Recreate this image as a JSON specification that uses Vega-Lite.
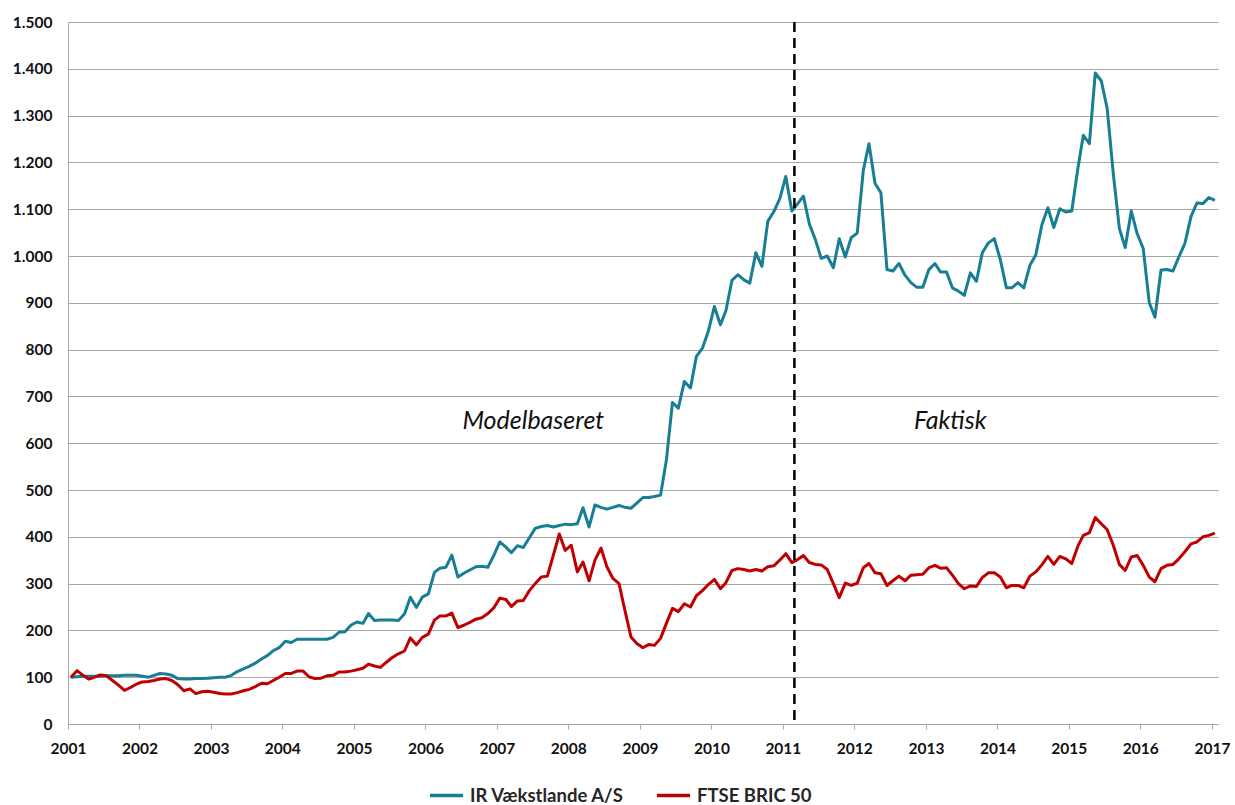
{
"$schema":"https://vega.github.io/schema/vega-lite/v6.json",
"width":1150,"height":702,
"autosize":{"type":"none"},
"padding":{"left":68,"top":22,"right":17,"bottom":81},
"background":"white",
"config":{"view":{"stroke":null},"font":"Lato"},
"datasets":{"main":[
{"t":"2001-01-16","ir":100,"ftse":100},{"t":"2001-02-16","ir":101,"ftse":114},{"t":"2001-03-16","ir":102,"ftse":105},{"t":"2001-04-16","ir":102,"ftse":96},{"t":"2001-05-16","ir":102,"ftse":100},{"t":"2001-06-16","ir":102,"ftse":105},{"t":"2001-07-16","ir":103,"ftse":103},{"t":"2001-08-16","ir":103,"ftse":93},{"t":"2001-09-16","ir":103,"ftse":83},{"t":"2001-10-16","ir":104,"ftse":72},{"t":"2001-11-16","ir":104,"ftse":78},{"t":"2001-12-16","ir":104,"ftse":85},
{"t":"2002-01-16","ir":102,"ftse":90},{"t":"2002-02-16","ir":100,"ftse":91},{"t":"2002-03-16","ir":104,"ftse":93},{"t":"2002-04-16","ir":108,"ftse":96},{"t":"2002-05-16","ir":107,"ftse":97},{"t":"2002-06-16","ir":104,"ftse":93},{"t":"2002-07-16","ir":97,"ftse":84},{"t":"2002-08-16","ir":96,"ftse":71},{"t":"2002-09-16","ir":96,"ftse":75},{"t":"2002-10-16","ir":97,"ftse":65},{"t":"2002-11-16","ir":97,"ftse":69},{"t":"2002-12-16","ir":98,"ftse":70},
{"t":"2003-01-16","ir":99,"ftse":68},{"t":"2003-02-16","ir":100,"ftse":65},{"t":"2003-03-16","ir":100,"ftse":64},{"t":"2003-04-16","ir":104,"ftse":64},{"t":"2003-05-16","ir":112,"ftse":67},{"t":"2003-06-16","ir":118,"ftse":71},{"t":"2003-07-16","ir":123,"ftse":74},{"t":"2003-08-16","ir":130,"ftse":80},{"t":"2003-09-16","ir":139,"ftse":87},{"t":"2003-10-16","ir":146,"ftse":86},{"t":"2003-11-16","ir":157,"ftse":93},{"t":"2003-12-16","ir":163,"ftse":100},
{"t":"2004-01-16","ir":177,"ftse":108},{"t":"2004-02-16","ir":174,"ftse":108},{"t":"2004-03-16","ir":181,"ftse":113},{"t":"2004-04-16","ir":181,"ftse":113},{"t":"2004-05-16","ir":181,"ftse":101},{"t":"2004-06-16","ir":181,"ftse":97},{"t":"2004-07-16","ir":181,"ftse":98},{"t":"2004-08-16","ir":181,"ftse":103},{"t":"2004-09-16","ir":185,"ftse":104},{"t":"2004-10-16","ir":196,"ftse":111},{"t":"2004-11-16","ir":197,"ftse":111},{"t":"2004-12-16","ir":211,"ftse":113},
{"t":"2005-01-16","ir":218,"ftse":116},{"t":"2005-02-16","ir":215,"ftse":119},{"t":"2005-03-16","ir":236,"ftse":128},{"t":"2005-04-16","ir":221,"ftse":124},{"t":"2005-05-16","ir":222,"ftse":121},{"t":"2005-06-16","ir":222,"ftse":132},{"t":"2005-07-16","ir":222,"ftse":142},{"t":"2005-08-16","ir":221,"ftse":150},{"t":"2005-09-16","ir":235,"ftse":156},{"t":"2005-10-16","ir":271,"ftse":184},{"t":"2005-11-16","ir":249,"ftse":169},{"t":"2005-12-16","ir":271,"ftse":185},
{"t":"2006-01-16","ir":278,"ftse":192},{"t":"2006-02-16","ir":324,"ftse":222},{"t":"2006-03-16","ir":333,"ftse":231},{"t":"2006-04-16","ir":335,"ftse":231},{"t":"2006-05-16","ir":361,"ftse":237},{"t":"2006-06-16","ir":314,"ftse":206},{"t":"2006-07-16","ir":322,"ftse":211},{"t":"2006-08-16","ir":329,"ftse":217},{"t":"2006-09-16","ir":336,"ftse":224},{"t":"2006-10-16","ir":337,"ftse":227},{"t":"2006-11-16","ir":335,"ftse":236},{"t":"2006-12-16","ir":360,"ftse":248},
{"t":"2007-01-16","ir":389,"ftse":269},{"t":"2007-02-16","ir":378,"ftse":266},{"t":"2007-03-16","ir":366,"ftse":251},{"t":"2007-04-16","ir":381,"ftse":263},{"t":"2007-05-16","ir":377,"ftse":264},{"t":"2007-06-16","ir":398,"ftse":285},{"t":"2007-07-16","ir":418,"ftse":300},{"t":"2007-08-16","ir":422,"ftse":314},{"t":"2007-09-16","ir":424,"ftse":316},{"t":"2007-10-16","ir":421,"ftse":360},{"t":"2007-11-16","ir":424,"ftse":406},{"t":"2007-12-16","ir":427,"ftse":371},
{"t":"2008-01-16","ir":426,"ftse":382},{"t":"2008-02-16","ir":428,"ftse":325},{"t":"2008-03-16","ir":462,"ftse":346},{"t":"2008-04-16","ir":421,"ftse":306},{"t":"2008-05-16","ir":468,"ftse":350},{"t":"2008-06-16","ir":463,"ftse":376},{"t":"2008-07-16","ir":459,"ftse":336},{"t":"2008-08-16","ir":463,"ftse":311},{"t":"2008-09-16","ir":467,"ftse":300},{"t":"2008-10-16","ir":463,"ftse":243},{"t":"2008-11-16","ir":461,"ftse":186},{"t":"2008-12-16","ir":472,"ftse":172},
{"t":"2009-01-16","ir":484,"ftse":163},{"t":"2009-02-16","ir":484,"ftse":170},{"t":"2009-03-16","ir":486,"ftse":168},{"t":"2009-04-16","ir":489,"ftse":183},{"t":"2009-05-16","ir":564,"ftse":215},{"t":"2009-06-16","ir":687,"ftse":247},{"t":"2009-07-16","ir":675,"ftse":240},{"t":"2009-08-16","ir":732,"ftse":257},{"t":"2009-09-16","ir":718,"ftse":250},{"t":"2009-10-16","ir":785,"ftse":274},{"t":"2009-11-16","ir":803,"ftse":285},{"t":"2009-12-16","ir":839,"ftse":298},
{"t":"2010-01-16","ir":892,"ftse":309},{"t":"2010-02-16","ir":853,"ftse":289},{"t":"2010-03-16","ir":883,"ftse":302},{"t":"2010-04-16","ir":948,"ftse":328},{"t":"2010-05-16","ir":960,"ftse":332},{"t":"2010-06-16","ir":949,"ftse":330},{"t":"2010-07-16","ir":942,"ftse":327},{"t":"2010-08-16","ir":1007,"ftse":330},{"t":"2010-09-16","ir":978,"ftse":327},{"t":"2010-10-16","ir":1074,"ftse":336},{"t":"2010-11-16","ir":1095,"ftse":338},{"t":"2010-12-16","ir":1122,"ftse":350},
{"t":"2011-01-16","ir":1170,"ftse":364},{"t":"2011-02-16","ir":1096,"ftse":345},{"t":"2011-03-16","ir":1111,"ftse":351},{"t":"2011-04-16","ir":1128,"ftse":360},{"t":"2011-05-16","ir":1069,"ftse":345},{"t":"2011-06-16","ir":1035,"ftse":341},{"t":"2011-07-16","ir":995,"ftse":340},{"t":"2011-08-16","ir":1000,"ftse":330},{"t":"2011-09-16","ir":975,"ftse":300},{"t":"2011-10-16","ir":1037,"ftse":270},{"t":"2011-11-16","ir":998,"ftse":301},{"t":"2011-12-16","ir":1039,"ftse":296},
{"t":"2012-01-16","ir":1049,"ftse":301},{"t":"2012-02-16","ir":1183,"ftse":334},{"t":"2012-03-16","ir":1240,"ftse":343},{"t":"2012-04-16","ir":1155,"ftse":323},{"t":"2012-05-16","ir":1135,"ftse":321},{"t":"2012-06-16","ir":971,"ftse":296},{"t":"2012-07-16","ir":968,"ftse":306},{"t":"2012-08-16","ir":984,"ftse":316},{"t":"2012-09-16","ir":959,"ftse":306},{"t":"2012-10-16","ir":943,"ftse":318},{"t":"2012-11-16","ir":933,"ftse":319},{"t":"2012-12-16","ir":933,"ftse":320},
{"t":"2013-01-16","ir":971,"ftse":334},{"t":"2013-02-16","ir":984,"ftse":339},{"t":"2013-03-16","ir":966,"ftse":333},{"t":"2013-04-16","ir":966,"ftse":334},{"t":"2013-05-16","ir":932,"ftse":318},{"t":"2013-06-16","ir":925,"ftse":300},{"t":"2013-07-16","ir":916,"ftse":289},{"t":"2013-08-16","ir":964,"ftse":295},{"t":"2013-09-16","ir":946,"ftse":294},{"t":"2013-10-16","ir":1007,"ftse":313},{"t":"2013-11-16","ir":1028,"ftse":323},{"t":"2013-12-16","ir":1037,"ftse":323},
{"t":"2014-01-16","ir":992,"ftse":314},{"t":"2014-02-16","ir":932,"ftse":291},{"t":"2014-03-16","ir":932,"ftse":296},{"t":"2014-04-16","ir":943,"ftse":296},{"t":"2014-05-16","ir":932,"ftse":291},{"t":"2014-06-16","ir":980,"ftse":316},{"t":"2014-07-16","ir":1002,"ftse":325},{"t":"2014-08-16","ir":1066,"ftse":340},{"t":"2014-09-16","ir":1103,"ftse":358},{"t":"2014-10-16","ir":1061,"ftse":341},{"t":"2014-11-16","ir":1101,"ftse":358},{"t":"2014-12-16","ir":1094,"ftse":353},
{"t":"2015-01-16","ir":1096,"ftse":343},{"t":"2015-02-16","ir":1187,"ftse":380},{"t":"2015-03-16","ir":1258,"ftse":403},{"t":"2015-04-16","ir":1240,"ftse":409},{"t":"2015-05-16","ir":1391,"ftse":441},{"t":"2015-06-16","ir":1374,"ftse":428},{"t":"2015-07-16","ir":1315,"ftse":415},{"t":"2015-08-16","ir":1176,"ftse":382},{"t":"2015-09-16","ir":1059,"ftse":341},{"t":"2015-10-16","ir":1018,"ftse":328},{"t":"2015-11-16","ir":1096,"ftse":357},{"t":"2015-12-16","ir":1048,"ftse":360},
{"t":"2016-01-16","ir":1016,"ftse":339},{"t":"2016-02-16","ir":900,"ftse":314},{"t":"2016-03-16","ir":869,"ftse":304},{"t":"2016-04-16","ir":970,"ftse":332},{"t":"2016-05-16","ir":971,"ftse":339},{"t":"2016-06-16","ir":968,"ftse":341},{"t":"2016-07-16","ir":998,"ftse":353},{"t":"2016-08-16","ir":1027,"ftse":368},{"t":"2016-09-16","ir":1084,"ftse":385},{"t":"2016-10-16","ir":1113,"ftse":389},{"t":"2016-11-16","ir":1112,"ftse":400},{"t":"2016-12-16","ir":1125,"ftse":403},
{"t":"2017-01-16","ir":1119,"ftse":408}
]},
"layer":[
{"data":{"name":"main"},
 "transform":[{"fold":["ir","ftse"],"as":["series","value"]}],
 "mark":{"type":"line","strokeWidth":3,"strokeJoin":"round"},
 "encoding":{
  "x":{"field":"t","type":"temporal","title":null,
   "scale":{"domain":[{"year":2001,"month":1,"date":1},{"year":2017,"month":2,"date":1}]},
   "axis":{"values":[{"year":2001,"month":1,"date":1},{"year":2002,"month":1,"date":1},{"year":2003,"month":1,"date":1},{"year":2004,"month":1,"date":1},{"year":2005,"month":1,"date":1},{"year":2006,"month":1,"date":1},{"year":2007,"month":1,"date":1},{"year":2008,"month":1,"date":1},{"year":2009,"month":1,"date":1},{"year":2010,"month":1,"date":1},{"year":2011,"month":1,"date":1},{"year":2012,"month":1,"date":1},{"year":2013,"month":1,"date":1},{"year":2014,"month":1,"date":1},{"year":2015,"month":1,"date":1},{"year":2016,"month":1,"date":1},{"year":2017,"month":1,"date":1}],
    "format":"%Y","grid":false,"labelFont":"Lato","labelFontSize":15.5,"labelFontWeight":"bold","labelColor":"#111111",
    "tickSize":5,"tickColor":"#a6a6a6","domainColor":"#a6a6a6","labelPadding":12,"labelFlush":false,"labelOverlap":false}},
  "y":{"field":"value","type":"quantitative","title":null,
   "scale":{"domain":[0,1500],"nice":false},
   "axis":{"values":[0,100,200,300,400,500,600,700,800,900,1000,1100,1200,1300,1400,1500],
    "labelExpr":"replace(format(datum.value, ','), ',', '.')",
    "grid":true,"gridColor":"#a6a6a6","gridWidth":1,"ticks":false,"tickSize":0,"labelPadding":16,
    "domainColor":"#a6a6a6","labelFont":"Lato","labelFontSize":15.5,"labelFontWeight":"bold","labelColor":"#111111"}},
  "color":{"field":"series","type":"nominal",
   "scale":{"domain":["ir","ftse"],"range":["#177e94","#c00000"]},
   "legend":{"orient":"none","legendX":360,"legendY":755,"direction":"horizontal","title":null,
    "symbolType":"stroke","symbolStrokeWidth":3.5,"symbolSize":1100,
    "labelFont":"Lato","labelFontSize":18.5,"labelFontWeight":"bold","labelColor":"#262626",
    "labelOffset":5,"columnPadding":24,"labelLimit":400,
    "labelExpr":"datum.value == 'ir' ? 'IR Vækstlande A/S' : 'FTSE BRIC 50'"}}
 }},
{"data":{"values":[{"t":"2011-03-01"}]},
 "mark":{"type":"rule","strokeDash":[10,6],"strokeWidth":2.5,"color":"#000000"},
 "encoding":{"x":{"field":"t","type":"temporal","title":null}}},
{"data":{"values":[{"t":"2007-07-06","v":631,"label":"Modelbaseret"},{"t":"2013-05-05","v":631,"label":"Faktisk"}]},
 "mark":{"type":"text","font":"Lato","fontStyle":"italic","fontSize":25,"align":"center","baseline":"alphabetic","color":"#111111"},
 "encoding":{"x":{"field":"t","type":"temporal","title":null},"y":{"field":"v","type":"quantitative","title":null},"text":{"field":"label"}}}
]
}
